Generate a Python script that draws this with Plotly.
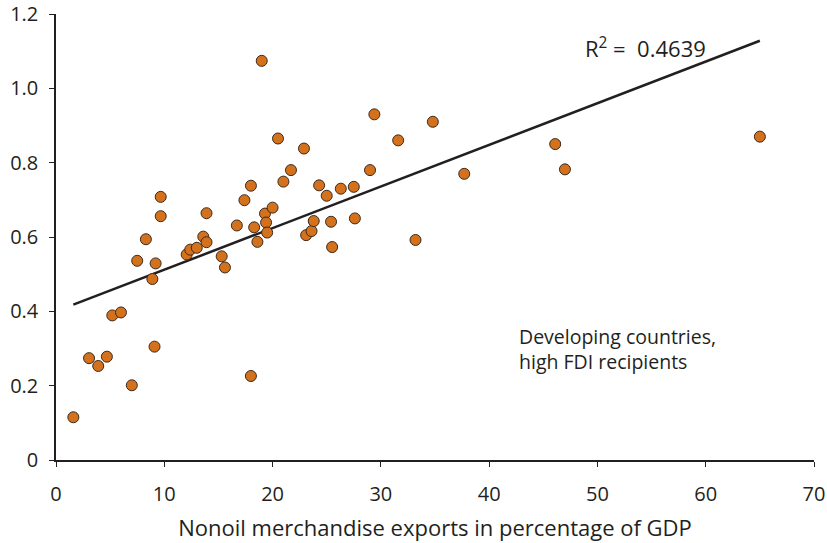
import plotly.graph_objects as go

x_exports = [1.6, 3.05, 3.9, 4.7, 5.2, 6.0, 7.0, 7.5, 8.3, 8.9, 9.1, 9.2, 9.67, 9.67,
             12.07, 12.4, 13.0, 13.6, 13.9, 13.9, 15.3, 15.6, 16.7, 17.4, 18.0, 18.0,
             18.3, 18.6, 19.0, 19.3, 19.4, 19.5, 20.0, 20.5, 21.0, 21.7, 22.9, 23.1,
             23.6, 23.8, 24.3, 25.0, 25.4, 25.5, 26.3, 27.5, 27.6, 29.0, 29.4, 31.6,
             33.2, 34.8, 37.7, 46.1, 47.0, 65.0]
y_values = [0.115, 0.274, 0.253, 0.278, 0.389, 0.397, 0.201, 0.536, 0.594, 0.487, 0.305,
            0.529, 0.708, 0.656, 0.553, 0.566, 0.571, 0.601, 0.586, 0.664, 0.548, 0.518,
            0.631, 0.699, 0.738, 0.226, 0.626, 0.587, 1.074, 0.663, 0.639, 0.612, 0.679,
            0.865, 0.749, 0.780, 0.838, 0.605, 0.616, 0.643, 0.739, 0.711, 0.641, 0.573,
            0.730, 0.735, 0.650, 0.780, 0.930, 0.860, 0.592, 0.910, 0.770, 0.850, 0.782,
            0.870]

trend_slope = 0.0112
trend_intercept = 0.400
trend_x = [min(x_exports), max(x_exports)]
trend_y = [trend_intercept + trend_slope * v for v in trend_x]

x_ticks = [0, 10, 20, 30, 40, 50, 60, 70]
y_ticks = [0, 0.2, 0.4, 0.6, 0.8, 1.0, 1.2]
y_tick_text = ["0", "0.2", "0.4", "0.6", "0.8", "1.0", "1.2"]

ink = "#231f20"
font_family = "'Open Sans', sans-serif"

fig = go.Figure()
fig.add_trace(go.Scatter(x=trend_x, y=trend_y, mode="lines",
                         line=dict(color=ink, width=2.5), hoverinfo="skip",
                         showlegend=False))
fig.add_trace(go.Scatter(x=x_exports, y=y_values, mode="markers",
                         marker=dict(size=11, color="#d4711c",
                                     line=dict(color="#3b2a1c", width=1)),
                         showlegend=False, cliponaxis=False))

fig.add_annotation(x=48.7, y=1.11, xref="x", yref="y", xanchor="left", yanchor="middle",
                   text="R<sup>2</sup> =  0.4639", showarrow=False,
                   font=dict(size=22, color=ink, family=font_family))
fig.add_annotation(x=42.6, y=0.30, xref="x", yref="y", xanchor="left", yanchor="middle",
                   align="left",
                   text="Developing countries,<br>high FDI recipients", showarrow=False,
                   font=dict(size=19.5, color=ink, family=font_family))

fig.update_layout(
    width=827, height=543,
    margin=dict(l=56, r=13, t=14, b=83, autoexpand=False),
    plot_bgcolor="white", paper_bgcolor="white",
    font=dict(family=font_family, size=20, color=ink),
    xaxis=dict(range=[0, 70], tickvals=x_ticks, showgrid=False, zeroline=False,
               automargin=False,
               showline=True, linecolor=ink, linewidth=1.5,
               ticks="outside", ticklen=5, tickcolor=ink, tickwidth=1.2,
               tickfont=dict(size=20), ticklabelstandoff=10,
               title=dict(text="Nonoil merchandise exports in percentage of GDP",
                          font=dict(size=22), standoff=15)),
    yaxis=dict(range=[0, 1.2], tickvals=y_ticks, ticktext=y_tick_text,
               showgrid=False, zeroline=False, automargin=False,
               showline=True, linecolor=ink, linewidth=1.5,
               ticks="outside", ticklen=5, tickcolor=ink, tickwidth=1.2,
               tickfont=dict(size=20), ticklabelstandoff=7),
)

# remove the default page margin so the figure fills the window exactly
fig.write_html("out.html", config={"displayModeBar": False},
               post_script="document.body.style.margin='0';document.body.style.overflow='hidden';")
